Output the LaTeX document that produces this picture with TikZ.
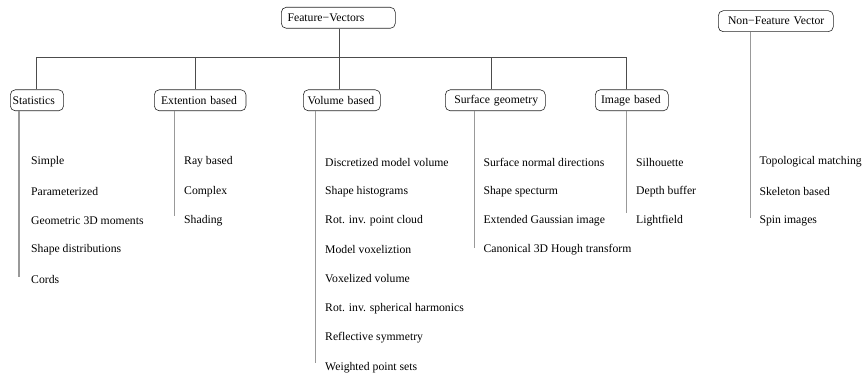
\documentclass[tikz,border=0pt]{standalone}
\usepackage{fontspec}
\setmainfont{Liberation Serif}
\begin{document}
\begin{tikzpicture}[x=1pt,y=-1pt,
  catbox/.style={draw=black!85,line width=0.6pt,rounded corners=5pt,inner ysep=0pt,minimum height=21pt,anchor=west,align=left,font=\fontsize{11.7}{14}\selectfont},
  item/.style={anchor=west,inner sep=0pt,font=\fontsize{11.7}{14}\selectfont},
  conn/.style={draw=black!70,line width=0.6pt},
  childline/.style={draw=black!40,line width=1.1pt}]
\useasboundingbox (0,0) rectangle (863,374);
% top boxes
\node[catbox,inner xsep=6.3pt,text width=101.4pt] (fv) at (281,17.8) {\mbox{Feature−Vectors}};
\node[catbox,inner xsep=9.7pt,text width=95.6pt] (nfv) at (718,21.2) {\mbox{Non−Feature Vector}};
% category boxes
\node[catbox,inner xsep=2.3pt,text width=48.7pt] (stat) at (10,100.3) {\mbox{Statistics}};
\node[catbox,inner xsep=6.7pt,text width=78.3pt] (ext) at (154,100.3) {\mbox{Extention based}};
\node[catbox,inner xsep=4.3pt,text width=68.4pt] (vol) at (303,100.3) {\mbox{Volume based}};
\node[catbox,inner xsep=9pt,text width=82pt] (surf) at (445,100.3) {\mbox{Surface geometry}};
\node[catbox,inner xsep=5.7pt,text width=61.6pt] (img) at (595,100.3) {\mbox{Image based}};
% bus coordinates
\coordinate (b1) at (36,57.3);
\coordinate (b2) at (195,57.3);
\coordinate (b3) at (339,57.3);
\coordinate (b4) at (491.7,57.3);
\coordinate (b5) at (626.7,57.3);
\draw[conn] (b1) -- (b5);
\draw[conn] (fv.south -| b3) -- (vol.north -| b3);
\draw[conn] (b1) -- (stat.north -| b1);
\draw[conn] (b2) -- (ext.north -| b2);
\draw[conn] (b4) -- (surf.north -| b4);
\draw[conn] (b5) -- (img.north -| b5);
% child line ends
\coordinate (e1) at (19,276.7);
\coordinate (e2) at (174.7,216);
\coordinate (e3) at (315.7,363);
\coordinate (e4) at (474.3,248);
\coordinate (e5) at (626.7,213);
\coordinate (e6) at (750.7,218);
\draw[childline] (stat.south -| e1) -- (e1);
\draw[childline] (ext.south -| e2) -- (e2);
\draw[childline] (vol.south -| e3) -- (e3);
\draw[childline] (surf.south -| e4) -- (e4);
\draw[childline] (img.south -| e5) -- (e5);
\draw[childline] (nfv.south -| e6) -- (e6);
% items: Statistics
\node[item] (s1) at (31,162) {Simple};
\node[item] (s2) at (31,191.3) {Parameterized};
\node[item] (s3) at (31,220.6) {Geometric 3D moments};
\node[item] (s4) at (31,249.8) {Shape distributions};
\node[item] (s5) at (31,279) {Cords};
% Extention
\node[item] (x1) at (184,162) {Ray based};
\node[item] (x2) at (184,191.3) {Complex};
\node[item] (x3) at (184,220.6) {Shading};
% Volume
\node[item] (v1) at (325,162) {Discretized model volume};
\node[item] (v2) at (325,191.3) {Shape histograms};
\node[item] (v3) at (325,220.6) {Rot. inv. point cloud};
\node[item] (v4) at (325,249.8) {Model voxeliztion};
\node[item] (v5) at (325,279) {Voxelized volume};
\node[item] (v6) at (325,308.6) {Rot. inv. spherical harmonics};
\node[item] (v7) at (325,338) {Reflective symmetry};
\node[item] (v8) at (325,367.3) {Weighted point sets};
% Surface
\node[item] (g1) at (483.3,162) {Surface normal directions};
\node[item] (g2) at (483.3,191.3) {Shape specturm};
\node[item] (g3) at (483.3,220.6) {Extended Gaussian image};
\node[item] (g4) at (483.3,249.8) {Canonical 3D Hough transform};
% Image
\node[item] (i1) at (636,162) {Silhouette};
\node[item] (i2) at (636,191.3) {Depth buffer};
\node[item] (i3) at (636,220.6) {Lightfield};
% Non-feature
\node[item] (n1) at (759.3,162) {Topological matching};
\node[item] (n2) at (759.3,191.3) {Skeleton based};
\node[item] (n3) at (759.3,220.6) {Spin images};
\end{tikzpicture}
\end{document}
